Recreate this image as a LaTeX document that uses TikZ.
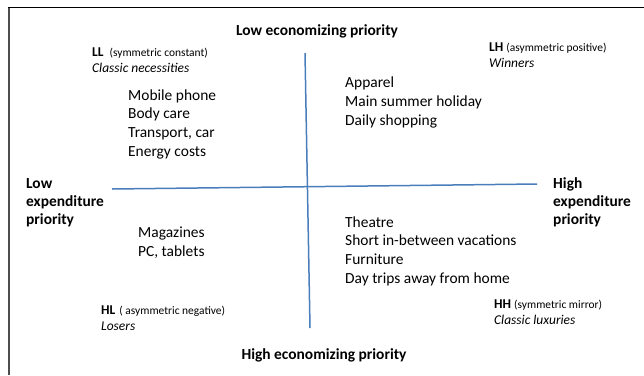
\documentclass[tikz,border=0pt]{standalone}
\usepackage{fontspec}
\setmainfont{Carlito}
\definecolor{axisblue}{HTML}{4A7EBB}
\definecolor{framegray}{HTML}{4D4D4D}
\begin{document}
\begin{tikzpicture}[x=1bp,y=-1bp,
  axislabel/.style={font=\fontsize{15.5}{18}\selectfont\bfseries, align=left, anchor=base west, inner sep=0pt},
  itemlist/.style={font=\fontsize{15.5}{18.7}\selectfont, align=left, anchor=base west, inner sep=0pt},
  quadname/.style={font=\fontsize{13.5}{16}\selectfont, align=left, anchor=base west, inner sep=0pt}]
\newcommand\smallpar[1]{{\fontsize{11.5}{13}\selectfont #1}}
\useasboundingbox (0,0) rectangle (644,375);
% frame
\draw[framegray, line width=2bp] (9,7) -- (9,375);
\draw[black, line width=1bp] (8,7) -- (644,7);
% axes
\coordinate (vtop) at (305,53);
\coordinate (vbot) at (310,328);
\coordinate (hleft) at (112,189);
\coordinate (hright) at (537,184);
\draw[axisblue, line width=1.5bp] (vtop) -- (vbot);
\draw[axisblue, line width=1.5bp] (hleft) -- (hright);

% axis labels
\node[axislabel, anchor=base] (lowecon) at (317,35) {Low economizing priority};
\node[axislabel, anchor=base] (highecon) at (324,359) {High economizing priority};
\node[axislabel] (lowexp) at (26,224) {Low\\expenditure\\priority};
\node[axislabel] (highexp) at (553,224) {High\\expenditure\\priority};

% quadrant names
\node[quadname] (ll) at (92,72) {\textbf{LL}\hspace{6bp}\smallpar{(symmetric constant)}\\\textit{Classic necessities}};
\node[quadname] (lh) at (489,67) {\textbf{LH} \smallpar{(asymmetric positive)}\\\textit{Winners}};
\node[quadname] (hl) at (101,330) {\textbf{HL}\hspace{4bp}\smallpar{( asymmetric negative)}\\\textit{Losers}};
\node[quadname] (hh) at (494,324) {\textbf{HH} \smallpar{(symmetric mirror)}\\\textit{Classic luxuries}};

% items
\node[itemlist] (llitems) at (128,156) {Mobile phone\\Body care\\Transport, car\\Energy costs};
\node[itemlist] (lhitems) at (345,125) {Apparel\\Main summer holiday\\Daily shopping};
\node[itemlist] (hlitems) at (138,256) {Magazines\\PC, tablets};
\node[itemlist] (hhitems) at (345,283) {Theatre\\Short in-between vacations\\Furniture\\Day trips away from home};
\end{tikzpicture}
\end{document}
